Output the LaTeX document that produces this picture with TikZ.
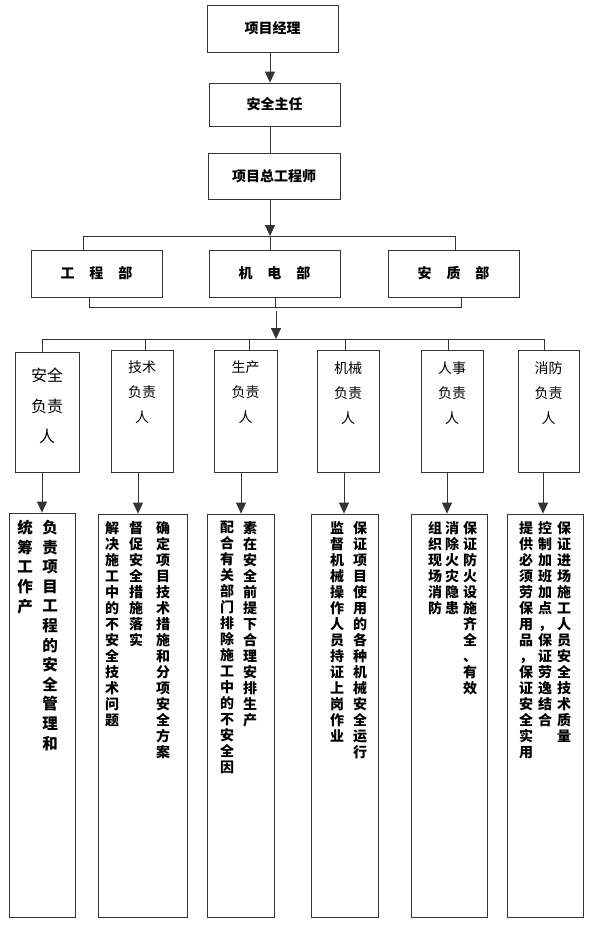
\documentclass[tikz,border=0pt]{standalone}
\usepackage{fontspec}
\newfontfamily\cjk{Noto Sans CJK SC}
\usetikzlibrary{arrows.meta}
\ExplSyntaxOn
\NewDocumentCommand\vcol{m}{
  \tl_clear:N \l_tmpa_tl
  \tl_map_inline:nn {#1} {
    \tl_if_empty:NF \l_tmpa_tl { \tl_put_right:Nn \l_tmpa_tl {\\} }
    \tl_put_right:Nn \l_tmpa_tl {##1}
  }
  \tl_use:N \l_tmpa_tl
}
\ExplSyntaxOff
\tikzset{
  box/.style={draw=black!80, line width=0.8pt, inner sep=0pt},
  ln/.style={draw=black!80, line width=0.8pt},
  arr/.style={ln, -{Triangle[width=10pt,length=11pt]}},
  title/.style={font=\cjk\bfseries\fontsize{14}{16}\selectfont},
  mid/.style={font=\cjk\fontsize{14}{25}\selectfont, align=center, anchor=north, inner sep=0pt},
  col/.style={font=\cjk\bfseries\fontsize{14}{16}\selectfont, align=center, anchor=north, inner sep=0pt},
  colbig/.style={col, font=\cjk\bfseries\fontsize{15.5}{19.6}\selectfont},
}
\begin{document}
\begin{tikzpicture}[x=1pt,y=-1pt]
\useasboundingbox (0,0) rectangle (589,926);
% top chain
\node[box, title, minimum width=131, minimum height=47] (PM) at (272.5,28.5) {项目经理};
\node[box, title, minimum width=131, minimum height=43] (SD) at (274.5,104.5) {安全主任};
\node[box, title, minimum width=132, minimum height=46] (CE) at (274,176) {项目总工程师};
% departments
\node[box, title, minimum width=131, minimum height=47] (D1) at (96.5,273.5) {工\hspace{15pt}程\hspace{15pt}部};
\node[box, title, minimum width=131, minimum height=47] (D2) at (274.5,273.5) {机\hspace{15pt}电\hspace{15pt}部};
\node[box, title, minimum width=131, minimum height=47] (D3) at (453.5,273.5) {安\hspace{15pt}质\hspace{15pt}部};
% middle boxes
\node[box, minimum width=64, minimum height=120] (M1) at (47,412) {};
\node[box, minimum width=62, minimum height=122] (M2) at (142,411) {};
\node[box, minimum width=63, minimum height=122] (M3) at (245.5,411) {};
\node[box, minimum width=62, minimum height=122] (M4) at (348,411) {};
\node[box, minimum width=62, minimum height=122] (M5) at (452,411) {};
\node[box, minimum width=61, minimum height=122] (M6) at (548.5,411) {};
\node[mid, font=\cjk\fontsize{16}{30.5}\selectfont] (m1) at (47,368) {安全\\负责\\人};
\node[mid] (m2) at (142,360.5) {技术\\负责\\人};
\node[mid] (m3) at (245.5,360.5) {生产\\负责\\人};
\node[mid] (m4) at (348,361.5) {机械\\负责\\人};
\node[mid] (m5) at (452,361.5) {人事\\负责\\人};
\node[mid] (m6) at (548.5,361.5) {消防\\负责\\人};
% lower boxes
\node[box, minimum width=66, minimum height=404] (L1) at (42,715) {};
\node[box, minimum width=89, minimum height=403] (L2) at (142.5,715.5) {};
\node[box, minimum width=67, minimum height=403] (L3) at (240.5,715.5) {};
\node[box, minimum width=67, minimum height=403] (L4) at (344.5,715.5) {};
\node[box, minimum width=76, minimum height=403] (L5) at (449,715.5) {};
\node[box, minimum width=76, minimum height=403] (L6) at (545,715.5) {};
% lower texts
\node[colbig] (c11) at (50,520) {\vcol{负责项目工程的安全管理和}};
\node[colbig] (c12) at (25,520) {\vcol{统筹工作产}};
\node[col] (c21) at (163,521) {\vcol{确定项目技术措施和分项安全方案}};
\node[col] (c22) at (136,521) {\vcol{督促安全措施落实}};
\node[col] (c23) at (112,521) {\vcol{解决施工中的不安全技术问题}};
\node[col] (c31) at (250,521) {\vcol{素在安全前提下合理安排生产}};
\node[col] (c32) at (227,521) {\vcol{配合有关部门排除施工中的不安全因}};
\node[col] (c41) at (360,521) {\vcol{保证项目使用的各种机械安全运行}};
\node[col] (c42) at (337,521) {\vcol{监督机械操作人员持证上岗作业}};
\node[col] (c51) at (470,521) {\vcol{保证防火设施齐全、有效}};
\node[col] (c52) at (452,521) {\vcol{消除火灾隐患}};
\node[col] (c53) at (435,521) {\vcol{组织现场消防}};
\node[col] (c61) at (564,521) {\vcol{保证进场施工人员安全技术质量}};
\node[col] (c62) at (545,521) {\vcol{控制加班加点，保证劳逸结合}};
\node[col] (c63) at (526,521) {\vcol{提供必须劳保用品，保证安全实用}};
% connectors
\coordinate (v0) at (270,0);
\draw[arr] (PM.south -| v0) -- (SD.north -| v0);
\draw[ln] (SD.south -| v0) -- (CE.north -| v0);
\coordinate (J1) at (270,236);
\coordinate (J1L) at (83,236);
\coordinate (J1R) at (455,236);
\draw[arr] (CE.south -| v0) -- (J1);
\draw[ln] (D1.north -| J1L) -- (J1L) -- (J1R) -- (D3.north -| J1R);
\draw[ln] (J1) -- (D2.north -| J1);
\coordinate (J2L) at (89,307);
\coordinate (J2R) at (461,307);
\coordinate (J2M) at (275,307);
\draw[ln] (D1.south -| J2L) -- (J2L) -- (J2R) -- (D3.south -| J2R);
\draw[ln] (D2.south -| J2M) -- (J2M);
\coordinate (A2) at (276,311);
\coordinate (J3) at (276,339);
\draw[arr] (A2) -- (J3);
\coordinate (J3L) at (42,339);
\coordinate (J3R) at (544,339);
\draw[ln] (J3L) -- (J3R);
\foreach \i/\x in {1/42,2/145,3/249,4/345,5/448,6/544}
  \draw[ln] (\x,339) -- (M\i.north -| \x,0);
\foreach \i/\x in {1/42,2/138,3/241,4/344,5/447,6/543}
  \draw[arr] (M\i.south -| \x,0) -- (L\i.north -| \x,0);
\end{tikzpicture}
\end{document}
